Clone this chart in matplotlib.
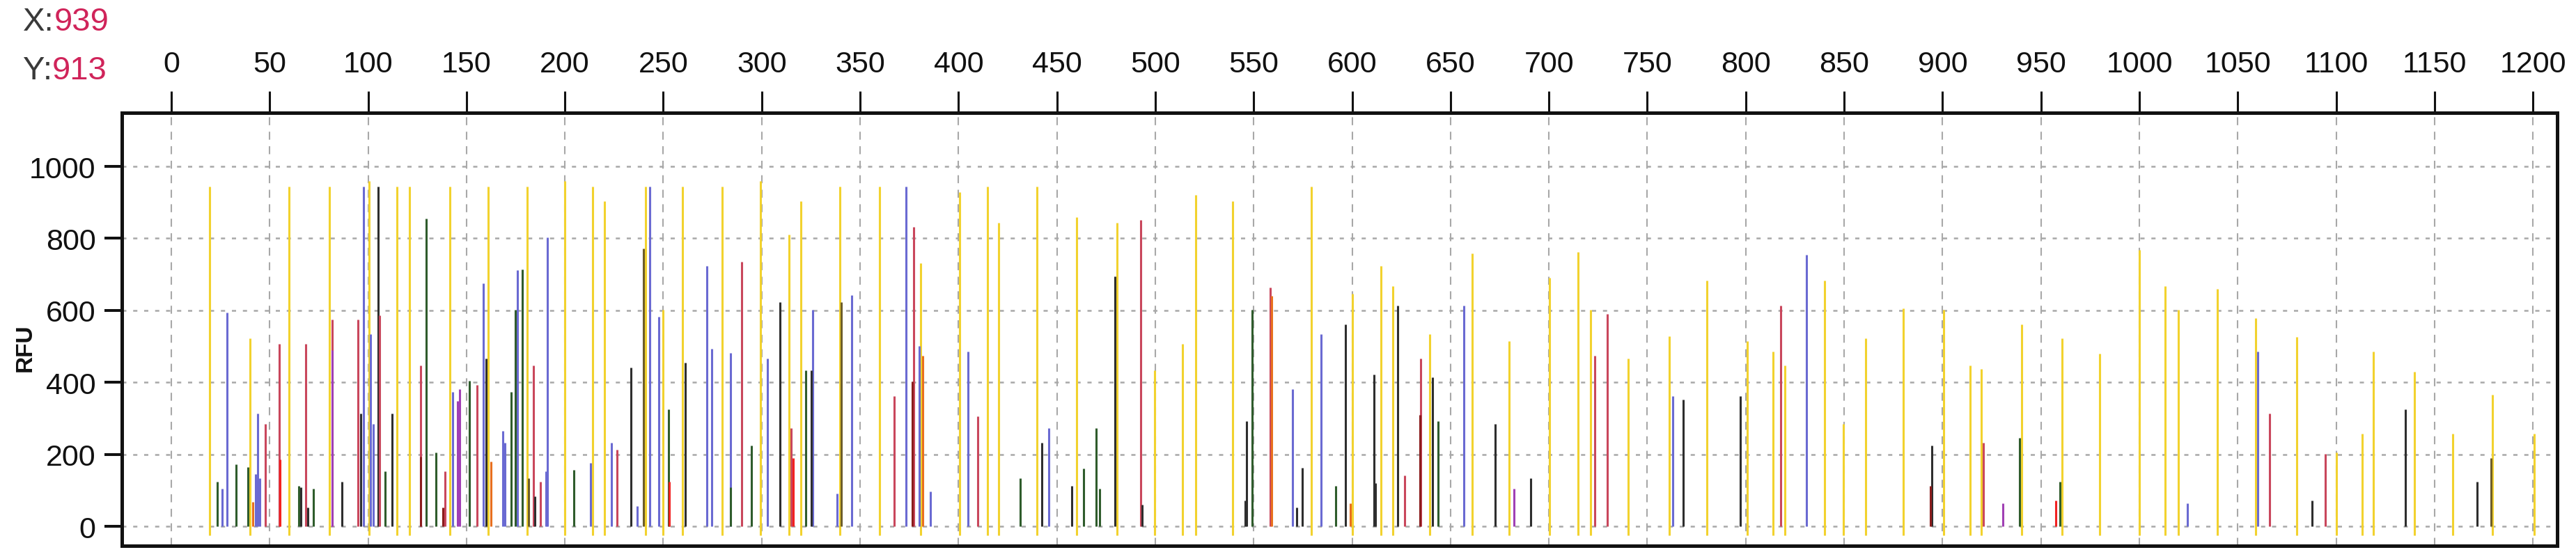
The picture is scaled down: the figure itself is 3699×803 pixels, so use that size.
import numpy as np
import pandas as pd
import matplotlib
matplotlib.use('Agg')
import matplotlib.pyplot as plt

# Peak positions (bp) and heights (RFU), by dye.
yellow_x = [19.6, 40.1, 60, 80.5, 100.4, 114.8, 121, 141.5, 161, 180.8, 200, 214.2,
            220, 241, 249.7, 259.9, 280, 299.3, 313.9, 320, 339.6, 360, 380.9, 400.7,
            414.6, 420.5, 439.8, 460, 480.5, 499.5, 513.9, 520.4, 539.2, 579.3, 600.1,
            614.7, 620.5, 639.5, 660.9, 679.9, 700.3, 714.8, 721, 740.4, 761, 780.3,
            800.7, 813.7, 820, 840.1, 849.6, 861, 880, 900.4, 913.9, 919.7, 940.2,
            960.7, 980, 1000, 1013, 1019.7, 1039.7, 1059, 1079.8, 1100, 1113.4,
            1118.9, 1139.8, 1159.4, 1179.5, 1200.8]
yellow_h = [944, 522, 944, 944, 960, 944, 944, 944, 944, 944, 960, 944,
            904, 944, 602, 944, 944, 960, 811, 904, 944, 944, 731, 928,
            944, 843, 944, 859, 843, 434, 506, 920, 904, 944, 647,
            723, 667, 534, 759, 514, 691, 763, 602, 466, 528, 683,
            514, 486, 446, 683, 285, 522, 606, 602, 446, 438, 562,
            522, 480, 767, 667, 602, 659, 578, 526, 205, 257,
            486, 430, 257, 365, 257]

blue_x = [25.8, 28.2, 42.9, 44, 44.9, 97.7, 101.4, 102.5, 142.9, 158.6, 168.5, 169.6,
          175.8, 191.2, 190.3, 213.2, 223.6, 236.9, 243, 247.7, 272, 274.5, 284, 303,
          325.8, 338.2, 345.9, 373.2, 380.1, 385.8, 405, 445.8, 569.8, 584.4, 656.8,
          763, 830.7, 1024.4, 1060.2]
blue_h = [104, 594, 145, 313, 133, 944, 534, 285, 373, 675, 265, 233,
          711, 803, 153, 177, 233, 56, 944, 582, 723, 494, 482, 466,
          602, 92, 643, 944, 502, 96, 486, 273, 381, 534, 614,
          362, 755, 64, 486]

red_x = [47.7, 54.8, 68.2, 81.6, 95, 105.9, 126.8, 139, 155.2, 184.2, 187.6, 226.5,
         290, 315, 367.3, 377.4, 409.8, 492.6, 558.4, 626.6, 635, 723.4, 729.5,
         817.6, 920.8, 1066.1, 1094.5]
red_h = [285, 506, 506, 574, 574, 586, 446, 153, 393, 446, 124, 213,
         735, 273, 361, 831, 305, 851, 663, 141, 466, 474, 590,
         614, 233, 313, 201]

brightred_x = [55.3, 253.2, 316, 957.6]
brightred_h = [185, 124, 189, 72]

darkred_x = [126.8, 138, 376.4, 634.4, 893.7]
darkred_h = [193, 52, 402, 309, 112]

green_x = [23.3, 32.9, 39, 64.8, 72.3, 108.6, 129.5, 134.4, 151.5, 172.6, 175, 178.5,
           204.5, 252.8, 284, 294.7, 322.3, 431.3, 463.6, 469.8, 471.8, 549.2, 591.6,
           643.6, 939.1, 959.6]
green_h = [124, 173, 165, 112, 104, 153, 855, 205, 405, 373, 602, 713,
           157, 325, 108, 225, 434, 133, 161, 273, 104, 602, 112,
           293, 245, 124]

black_x = [65.8, 69.3, 86.7, 96.3, 105.2, 112.3, 160, 184.9, 233.5, 261, 309.2, 325.1,
           442.2, 457.7, 479.5, 493.4, 546.2, 545.6, 571.9, 574.6, 596.6, 611, 612,
           623.1, 640.9, 672.7, 690.8, 768.4, 797.1, 894.5, 1087.9, 1135.1, 1171.7]
black_h = [108, 52, 124, 313, 944, 313, 466, 84, 442, 454, 622, 434,
           233, 112, 695, 60, 293, 72, 52, 163, 562, 422, 120,
           614, 414, 285, 133, 353, 361, 225, 72, 325, 124]

orange_x = [41.5, 162.5, 381.8, 559.2, 599]
orange_h = [68, 181, 474, 640, 64]

purple_x = [81.6, 145.6, 146.6, 682.2, 930.8]
purple_h = [490, 349, 381, 104, 64]

olive_x = [181.5, 239.9, 340.3, 1178.7]
olive_h = [133, 771, 622, 189]

dyes = [
    (yellow_x, yellow_h, '#F2D22E'),
    (blue_x, blue_h, '#6A6AD2'),
    (red_x, red_h, '#C9475C'),
    (brightred_x, brightred_h, '#F22222'),
    (darkred_x, darkred_h, '#8A1C1C'),
    (green_x, green_h, '#2F5C2C'),
    (black_x, black_h, '#2E2E2E'),
    (orange_x, orange_h, '#E8701E'),
    (purple_x, purple_h, '#A040B4'),
    (olive_x, olive_h, '#6E5E2A'),
]

# Build one table so the tall peaks go underneath the short ones.
rows = []
for xs, hs, col in dyes:
    base = -25 if col == '#F2D22E' else 0
    for x, h in zip(xs, hs):
        rows.append((x, h, col, base))
df = pd.DataFrame(rows, columns=['bp', 'rfu', 'color', 'base'])
df = df.sort_values('rfu', ascending=False)

font = ['Liberation Sans Narrow', 'Liberation Sans', 'DejaVu Sans']
plt.rcParams['font.family'] = font

fig = plt.figure(figsize=(36.99, 8.04), dpi=100)
ax = fig.add_axes([0.0473, 0.0236, 0.9454, 0.7737])

ax.vlines(df['bp'], df['base'], df['rfu'], colors=df['color'], linewidth=2.2, zorder=3)

ax.set_xlim(-25.1, 1212.3)
ax.set_ylim(-54, 1149)

ax.xaxis.tick_top()
ax.set_xticks(np.arange(0, 1201, 50))
ax.set_yticks(np.arange(0, 1001, 200))
ax.tick_params(axis='x', length=22, width=2.2, pad=14, labelsize=31, colors='#111111')
ax.tick_params(axis='y', length=18, width=2.9, pad=9, labelsize=31, colors='#111111')

ax.xaxis.grid(True, linestyle=(0, (5.5, 4.5)), color='#A8A8A8', linewidth=1.5, zorder=1)
ax.yaxis.grid(True, linestyle=(0, (2.4, 3.9)), color='#A8A8A8', linewidth=1.8, zorder=1)
ax.set_axisbelow(True)

for s in ax.spines.values():
    s.set_linewidth(3.6)
    s.set_color('#111111')

fig.text(0.0097, 0.378, 'RFU', rotation=90, fontsize=24, fontweight='bold',
         family=['Liberation Sans', 'DejaVu Sans'], ha='center', va='center', color='#111111')

# Cursor readout in the corner: label in grey, value in crimson right after it.
for label, value, ypix in [('X:', '939', 32), ('Y:', '913', 102)]:
    t = fig.text(33 / 3699, 1 - ypix / 804, label, fontsize=34, color='#3A3A3A',
                 va='center', family=['Liberation Sans Narrow', 'Liberation Sans', 'DejaVu Sans'])
    ax.annotate(value, xy=(1, 0.5), xycoords=t, va='center', ha='left',
                fontsize=34, color='#D0245A', annotation_clip=False,
                family=['Liberation Sans Narrow', 'Liberation Sans', 'DejaVu Sans'])

fig.savefig('out.png', dpi=100, facecolor='white')
